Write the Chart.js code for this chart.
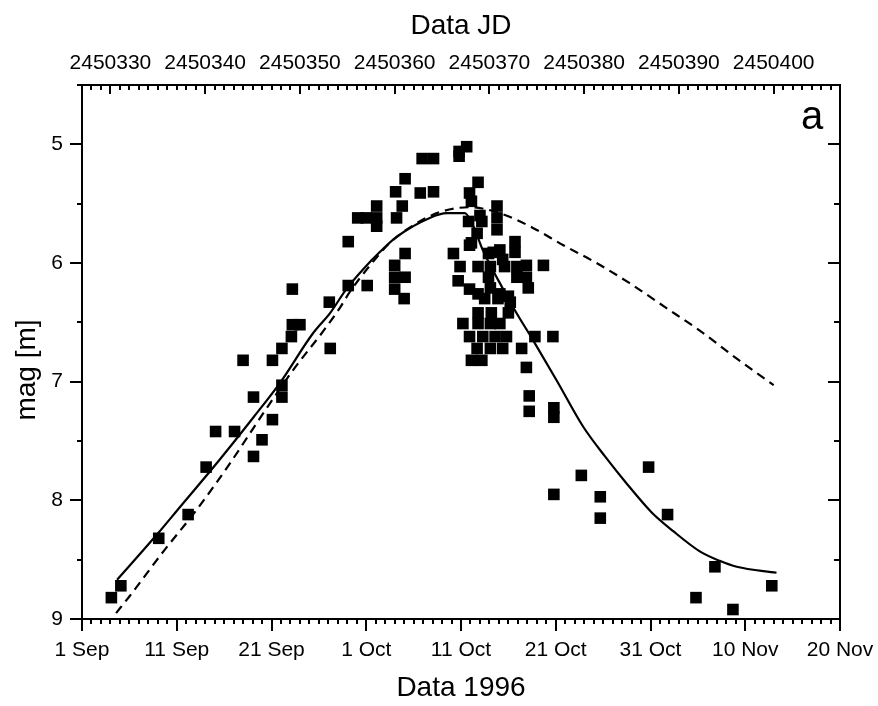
<!DOCTYPE html>
<html>
<head>
<meta charset="utf-8">
<script src="https://cdn.jsdelivr.net/npm/chart.js@4.4.0/dist/chart.umd.min.js"></script>
<style>
  html, body { margin: 0; padding: 0; background: #fff; }
  #wrap { width: 878px; height: 706px; }
</style>
</head>
<body>
<div id="wrap"><canvas id="lightCurve"></canvas></div>
<script>
// x values are days counted from 1 Sep 1996, y values are magnitudes
const obsDay = [
  3.1, 4.1, 8.1, 11.2, 13.1, 14.1, 16.1, 17.0, 18.1, 18.1, 19.0, 20.1, 20.1, 21.1, 21.1, 21.1,
  22.1, 22.2, 22.2, 23.0, 26.2, 26.1, 28.1, 28.1, 29.1, 30.0, 30.1, 31.1, 31.1, 31.1, 33.2, 33.1,
  33.8, 34.1, 33.0, 33.0, 33.0, 34.1, 34.1, 34.0, 35.7, 37.1, 35.9, 37.1, 39.8, 39.8, 40.6,
  39.2, 39.7, 39.9, 40.2, 40.8, 40.9, 40.9, 40.9, 40.9, 41.1, 41.1, 41.1, 41.7, 41.7, 41.8, 41.8,
  41.8, 41.8, 41.8, 42.0, 42.2, 42.2, 42.3, 42.5, 42.9, 42.9, 43.1, 43.1, 43.1, 43.1, 43.2, 43.4,
  43.6, 43.8, 43.8, 43.8, 43.9, 44.1, 44.1, 44.1, 44.4, 44.4, 44.6, 44.8, 45.0, 45.0, 45.2, 45.7,
  45.7, 45.9, 45.9, 46.4, 46.9, 46.9, 46.9, 47.1, 47.2, 47.2, 47.8, 48.7, 49.7, 49.8, 49.8, 49.8,
  52.7, 54.7, 54.7, 59.8, 61.8, 64.8, 66.8, 68.7, 72.8
];
const obsMag = [
  8.82, 8.72, 8.32, 8.12, 7.72, 7.42, 7.42, 6.82, 7.63, 7.13, 7.49, 7.32, 6.82, 7.13, 7.03, 6.72,
  6.62, 6.52, 6.22, 6.52, 6.72, 6.33, 6.19, 5.82, 5.62, 5.62, 6.19, 5.52, 5.62, 5.69, 5.62, 5.40,
  5.52, 5.29, 6.02, 6.12, 6.22, 5.92, 6.12, 6.30, 5.41, 5.40, 5.12, 5.12, 5.06, 5.10, 5.02,
  5.92, 6.15, 6.03, 6.51, 5.65, 5.41, 5.85, 6.22, 6.62, 5.48, 5.83, 6.82, 5.75, 6.72, 5.32, 6.03,
  6.26, 6.42, 6.51, 5.60, 5.65, 6.82, 6.62, 6.30, 5.92, 6.12, 6.03, 6.21, 6.51, 6.72, 6.42, 5.91,
  6.62, 5.52, 5.62, 5.72, 6.30, 5.89, 6.26, 6.51, 5.97, 6.72, 6.03, 6.62, 6.28, 6.42, 6.33, 5.82,
  5.91, 6.03, 6.12, 6.72, 6.02, 6.12, 6.88, 6.21, 7.12, 7.25, 6.62, 6.02, 6.62, 7.22, 7.30, 7.95,
  7.79, 7.97, 8.15, 7.72, 8.12, 8.82, 8.56, 8.92, 8.72
];

// solid model curve
const solidDay = [3.7, 8.0, 10.3, 14.5, 18.1, 20.9, 24.4, 26.2, 27.9, 29.7, 31.4, 33.2, 36.7, 38.5, 40.4,
  41.3, 42.3, 43.9, 45.7, 47.6, 50.1, 52.9, 55.2, 57.5, 60.1, 62.4, 65.2, 67.3, 69.1, 73.3];
const solidMag = [8.67, 8.28, 8.06, 7.66, 7.30, 7.01, 6.59, 6.42, 6.22, 6.05, 5.91, 5.78, 5.62, 5.58, 5.58,
  5.69, 5.89, 6.14, 6.40, 6.65, 6.99, 7.38, 7.63, 7.86, 8.10, 8.26, 8.43, 8.51, 8.56, 8.61];

// dashed model curve
const dashDay = [3.6, 5.0, 8.6, 12.1, 15.6, 19.1, 22.3, 25.5, 27.2, 28.3, 30.4, 32.5, 35.0, 37.8, 40.9,
  44.1, 47.5, 50.8, 54.3, 57.8, 61.5, 65.2, 69.0, 73.0];
const dashMag = [8.95, 8.81, 8.43, 8.08, 7.69, 7.27, 6.90, 6.57, 6.38, 6.24, 6.02, 5.83, 5.68, 5.57, 5.53,
  5.58, 5.70, 5.85, 6.00, 6.17, 6.37, 6.57, 6.80, 7.03];

const dateTicks = [0, 10, 20, 30, 40, 50, 60, 70, 80];
const dateLabels = ['1 Sep', '11 Sep', '21 Sep', '1 Oct', '11 Oct', '21 Oct', '31 Oct', '10 Nov', '20 Nov'];
const jdStart = 2450327; // JD of 1 Sep on this axis
const jdTicks = [2450330, 2450340, 2450350, 2450360, 2450370, 2450380, 2450390, 2450400];
const magTicks = [5, 6, 7, 8, 9];

const FONT = "'Liberation Sans', Arial, sans-serif";

function pairs(xs, ys) {
  return xs.map((x, i) => ({x: x, y: ys[i]}));
}

// frame, minor/major ticks, y title and panel letter
const frameTicks = {
  id: 'frameTicks',
  afterDatasetsDraw(chart) {
    const {ctx, chartArea: a, scales} = chart;
    ctx.save();
    ctx.strokeStyle = '#000';
    ctx.lineWidth = 2;
    ctx.strokeRect(a.left, a.top, a.right - a.left, a.bottom - a.top);
    ctx.beginPath();
    for (let d = 0; d <= 80; d++) {
      const x = Math.round(scales.x.getPixelForValue(d));
      ctx.moveTo(x, a.bottom);
      ctx.lineTo(x, a.bottom + (d % 10 === 0 ? 12 : 5));
    }
    for (let jd = jdStart; jd <= jdStart + 80; jd++) {
      const x = Math.round(scales.xTop.getPixelForValue(jd));
      ctx.moveTo(x, a.top);
      ctx.lineTo(x, a.top + (jd % 10 === 0 ? 9 : 5));
    }
    for (let m = 4.5; m <= 9; m += 0.5) {
      const y = Math.round(scales.y.getPixelForValue(m));
      const major = m % 1 === 0;
      ctx.moveTo(a.left, y);
      ctx.lineTo(a.left - (major ? 12 : 5), y);
      ctx.moveTo(a.right, y);
      ctx.lineTo(a.right - (major ? 12 : 6), y);
    }
    ctx.stroke();

    ctx.fillStyle = '#000';
    ctx.font = '28px ' + FONT;
    ctx.textAlign = 'center';
    ctx.textBaseline = 'middle';
    ctx.translate(27, 370);
    ctx.rotate(-Math.PI / 2);
    ctx.fillText('mag [m]', 0, 0);
    ctx.setTransform(1, 0, 0, 1, 0, 0);
    ctx.font = '40px ' + FONT;
    ctx.fillText('a', 812, 118);
    ctx.restore();
  }
};

// keep the plot box fixed: no extra room for overhanging labels
function fixBox(size) {
  return s => {
    if (s.isHorizontal()) s.height = size; else s.width = size;
    s.paddingLeft = 0; s.paddingRight = 0; s.paddingTop = 0; s.paddingBottom = 0;
  };
}

const ctx = document.getElementById('lightCurve').getContext('2d');
const chart = new Chart(ctx, {
  type: 'scatter',
  data: {
    datasets: [
      {
        label: 'obs',
        data: pairs(obsDay, obsMag),
        pointStyle: 'rect',
        pointRadius: 8.2,
        backgroundColor: '#000',
        borderWidth: 0,
        showLine: false
      },
      {
        label: 'model',
        data: pairs(solidDay, solidMag),
        showLine: true,
        pointRadius: 0,
        borderColor: '#000',
        borderWidth: 2.2,
        cubicInterpolationMode: 'monotone'
      },
      {
        label: 'model 2',
        data: pairs(dashDay, dashMag),
        showLine: true,
        pointRadius: 0,
        borderColor: '#000',
        borderWidth: 2.2,
        borderDash: [9, 6],
        cubicInterpolationMode: 'monotone'
      }
    ]
  },
  options: {
    responsive: true,
    maintainAspectRatio: false,
    animation: false,
    events: [],
    layout: { autoPadding: false, padding: { left: 0, right: 38, top: 0, bottom: 0 } },
    plugins: { legend: { display: false }, tooltip: { enabled: false } },
    scales: {
      x: {
        type: 'linear', position: 'bottom', min: 0, max: 80,
        grid: { display: false, drawTicks: false }, border: { display: false },
        afterBuildTicks: s => { s.ticks = dateTicks.map(v => ({value: v})); },
        afterFit: fixBox(87),
        ticks: {
          padding: 19, color: '#000', font: { family: FONT, size: 21 }, maxRotation: 0,
          callback: v => dateLabels[dateTicks.indexOf(v)]
        },
        title: { display: true, text: 'Data 1996', color: '#000', font: { family: FONT, size: 28 }, padding: { top: 0, bottom: 1 } }
      },
      xTop: {
        type: 'linear', position: 'top', min: jdStart, max: jdStart + 80,
        grid: { display: false, drawTicks: false }, border: { display: false },
        afterBuildTicks: s => { s.ticks = jdTicks.map(v => ({value: v})); },
        afterFit: fixBox(85),
        ticks: {
          padding: 9, color: '#000', font: { family: FONT, size: 21 }, maxRotation: 0,
          callback: v => String(v)
        },
        title: { display: true, text: 'Data JD', color: '#000', font: { family: FONT, size: 28 }, padding: { top: 9, bottom: 0 } }
      },
      y: {
        type: 'linear', position: 'left', reverse: true, min: 4.5, max: 9,
        grid: { display: false, drawTicks: false }, border: { display: false },
        afterBuildTicks: s => { s.ticks = magTicks.map(v => ({value: v})); },
        afterFit: fixBox(82),
        ticks: { padding: 19, color: '#000', font: { family: FONT, size: 21 } }
      }
    }
  },
  plugins: [frameTicks]
});
</script>
</body>
</html>
